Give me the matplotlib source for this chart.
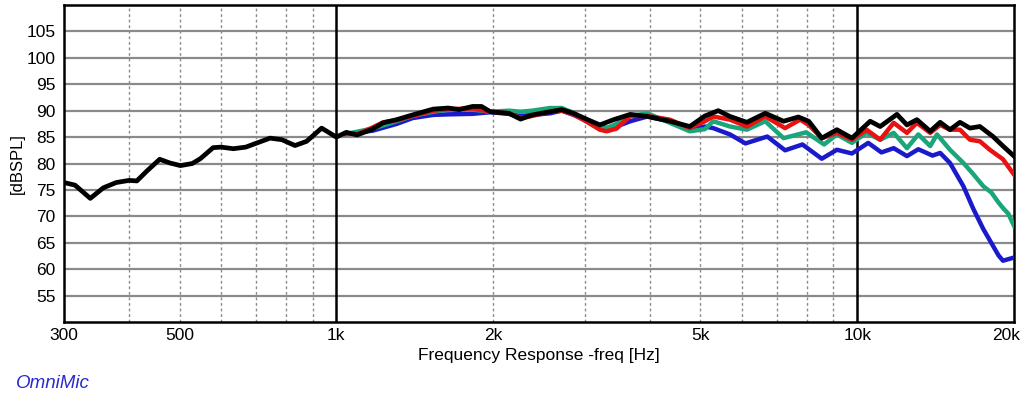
import matplotlib
matplotlib.use("Agg")
import matplotlib.pyplot as plt
import matplotlib.transforms as mtransforms
from matplotlib.ticker import FixedLocator, NullFormatter

plt.rcParams["font.family"] = ["Liberation Sans", "DejaVu Sans"]

# frequency response curves
black_freq = [300, 315, 337, 357, 378, 400, 414, 433, 458, 479, 502, 529, 548, 580, 601,
              634, 670, 700, 746, 786, 833, 877, 937, 1000, 1045, 1096, 1173, 1230, 1306,
              1401, 1535, 1640, 1720, 1827, 1900, 1975, 2144, 2258, 2378, 2572, 2708, 2853,
              3037, 3205, 3408, 3668, 3956, 4368, 4770, 5100, 5410, 5700, 6140, 6660, 7220,
              7710, 8070, 8550, 9140, 9770, 10590, 11070, 11920, 12460, 13020, 13810,
              14430, 15070, 15750, 16460, 17200, 18230, 19050, 20000]
black_db = [76.4, 75.9, 73.4, 75.4, 76.4, 76.8, 76.7, 78.6, 80.8, 80.1, 79.6, 80.0, 80.9,
            83.0, 83.1, 82.8, 83.1, 83.8, 84.8, 84.5, 83.4, 84.2, 86.7, 85.0, 85.9, 85.4,
            86.5, 87.7, 88.3, 89.2, 90.3, 90.5, 90.2, 90.8, 90.8, 89.8, 89.5, 88.4, 89.2,
            89.8, 90.2, 89.5, 88.3, 87.3, 88.3, 89.3, 88.9, 88.0, 87.0, 89.0, 90.0, 88.9,
            87.8, 89.5, 88.0, 88.8, 88.0, 84.8, 86.4, 84.8, 88.0, 87.0, 89.3, 87.3, 88.3,
            86.1, 87.8, 86.4, 87.8, 86.7, 87.0, 85.1, 83.3, 81.4]

red_freq = [1045, 1100, 1173, 1230, 1306, 1401, 1535, 1640, 1827, 1975, 2144, 2258, 2378,
            2572, 2708, 2853, 3037, 3205, 3304, 3450, 3668, 3956, 4368, 4770, 5100, 5290,
            5700, 6140, 6660, 7270, 7770, 8070, 8550, 9140, 9770, 10420, 11070, 11750,
            12460, 13020, 13810, 14430, 15070, 15750, 16460, 17200, 17970, 19050, 20000]
red_db = [85.6, 85.6, 86.8, 87.8, 88.2, 89.0, 90.0, 90.3, 90.4, 89.8, 89.5, 88.6, 89.0,
          89.8, 90.0, 89.3, 87.8, 86.4, 86.1, 86.6, 89.0, 89.0, 88.3, 86.7, 88.0, 88.9,
          88.3, 87.0, 88.9, 86.7, 88.3, 87.3, 84.8, 85.8, 84.5, 86.4, 84.5, 87.7, 85.8,
          87.7, 85.8, 87.3, 86.4, 86.4, 84.5, 84.2, 82.6, 80.8, 77.9]

green_freq = [1045, 1173, 1306, 1401, 1535, 1640, 1827, 1975, 2144, 2258, 2378, 2572,
              2708, 2853, 3037, 3304, 3450, 3668, 3956, 4368, 4770, 5100, 5290, 5700,
              6140, 6660, 7220, 7980, 8640, 9140, 9770, 10420, 11070, 11750, 12460, 13100,
              13810, 14230, 15070, 15990, 16700, 17460, 18100, 18680, 19120, 19500, 20000]
green_db = [85.6, 86.6, 88.0, 89.0, 89.8, 90.2, 90.2, 89.8, 90.0, 89.8, 90.0, 90.5, 90.5,
            89.6, 88.0, 86.7, 87.5, 89.0, 89.5, 87.7, 86.1, 86.5, 88.0, 87.0, 86.4, 88.0,
            84.8, 85.9, 83.6, 85.5, 83.9, 85.8, 84.5, 85.8, 82.9, 85.5, 83.3, 85.5, 82.6,
            80.1, 78.0, 75.7, 74.5, 72.6, 71.4, 70.5, 68.2]

blue_freq = [1045, 1173, 1306, 1401, 1535, 1640, 1827, 1975, 2144, 2258, 2378, 2572, 2708,
             2853, 3037, 3304, 3450, 3668, 3956, 4368, 4770, 5100, 5290, 5700, 6100, 6720,
             7270, 7850, 8550, 9140, 9770, 10500, 11130, 11750, 12460, 13100, 13950,
             14430, 15070, 15990, 16710, 17460, 18680, 19050, 20000]
blue_db = [85.6, 86.2, 87.5, 88.6, 89.2, 89.3, 89.4, 89.7, 89.4, 89.0, 89.2, 89.5, 90.0,
           89.2, 88.0, 86.7, 87.0, 88.0, 88.9, 88.0, 86.4, 87.0, 86.7, 85.5, 83.8, 85.1,
           82.5, 83.6, 80.9, 82.6, 81.9, 83.9, 82.1, 82.9, 81.4, 82.7, 81.5, 82.0, 80.1,
           75.7, 71.4, 67.6, 62.6, 61.6, 62.2]

x_ticks = [300, 500, 1000, 2000, 5000, 10000, 20000]
x_tick_labels = ["300", "500", "1k", "2k", "5k", "10k", "20k"]
y_ticks = [55, 60, 65, 70, 75, 80, 85, 90, 95, 100, 105]
minor_freqs = [400, 500, 600, 700, 800, 900, 2000, 3000, 4000, 5000, 6000, 7000, 8000, 9000]

fig = plt.figure(figsize=(10.24, 3.97), dpi=100)
ax = fig.add_axes([64 / 1024, 1 - 322 / 397, 950 / 1024, 317 / 397])

ax.set_xscale("log")
ax.set_xlim(300, 20000)
ax.set_ylim(50, 110)

# grid
for y in y_ticks:
    ax.axhline(y, color="#8a8a8a", linewidth=1.6, zorder=1)
for f in minor_freqs:
    ax.axvline(f, color="#8a8a8a", linewidth=1.0, linestyle=(0, (2, 2)), zorder=1)
for f in [1000, 10000]:
    ax.axvline(f, color="black", linewidth=1.8, zorder=1)

ax.plot(blue_freq, blue_db, color="#1a1acc", linewidth=3.2, zorder=3)
ax.plot(green_freq, green_db, color="#1aa67a", linewidth=3.2, zorder=4)
ax.plot(red_freq, red_db, color="#e81212", linewidth=3.2, zorder=5)
ax.plot(black_freq, black_db, color="black", linewidth=3.4, zorder=6)

ax.xaxis.set_major_locator(FixedLocator(x_ticks))
ax.xaxis.set_minor_locator(FixedLocator([]))
ax.xaxis.set_minor_formatter(NullFormatter())
ax.set_xticklabels(x_tick_labels)
ax.set_yticks(y_ticks)
ax.tick_params(axis="both", length=0, labelsize=12.5)
ax.tick_params(axis="x", pad=4)
ax.tick_params(axis="y", pad=6)

# pull the last label inside the figure edge
last = ax.get_xticklabels()[-1]
last.set_transform(last.get_transform() + mtransforms.ScaledTranslation(-8 / 100, 0, fig.dpi_scale_trans))

for s in ax.spines.values():
    s.set_linewidth(1.8)

ax.set_xlabel("Frequency Response -freq [Hz]", fontsize=12.5, labelpad=4)
ax.set_ylabel("[dBSPL]", fontsize=12, labelpad=1)

fig.text(16 / 1024, 1 - 383 / 397, "OmniMic", color="#2a2ad0", style="italic",
         fontsize=13.5, va="center", ha="left")

fig.savefig("out.png", dpi=100)
